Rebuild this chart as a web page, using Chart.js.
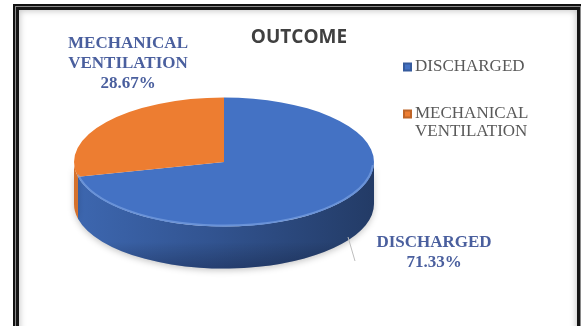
<!DOCTYPE html>
<html>
<head>
<meta charset="utf-8">
<title>Outcome</title>
<script src="https://cdn.jsdelivr.net/npm/chart.js@4.4.1/dist/chart.umd.min.js"></script>
<style>
  html, body { margin: 0; padding: 0; background: #ffffff; }
  #wrap { position: relative; width: 581px; height: 326px; overflow: hidden; background: #ffffff; }
  #frame {
    position: absolute; left: 13px; top: 4px; width: 570px; height: 360px;
    background: #ffffff;
    box-shadow:
      inset 0 0 0 2px #111111,
      inset 0 0 0 3px #8a8a8a,
      inset 0 0 0 6px #151515,
      inset 0 0 6px 7px rgba(0,0,0,0.22);
  }
  #c { position: absolute; left: 0; top: 0; }
</style>
</head>
<body>
<div id="wrap">
  <div id="frame"></div>
  <canvas id="c" width="581" height="326"></canvas>
</div>
<script>
// Outcome of admitted patients (share of cases, %)
const categories = ['DISCHARGED', 'MECHANICAL VENTILATION'];
const shares = [71.33, 28.67];
const sliceColors = ['#4472C4', '#ED7D31'];
const chartTitle = 'OUTCOME';

// Look of the tilted pie
const TILT = 0.43;        // vertical squash of the pie face
const DEPTH = 42;         // thickness of the pie wall in px
const LABEL_COLOR = '#4a5f9e';

function shade(hex, f) {
  const n = parseInt(hex.slice(1), 16);
  const r = Math.round(((n >> 16) & 255) * f);
  const g = Math.round(((n >> 8) & 255) * f);
  const b = Math.round((n & 255) * f);
  return 'rgb(' + r + ',' + g + ',' + b + ')';
}

// Draws the visible wall of each slice, then squashes the face drawn by Chart.js
const tiltPlugin = {
  id: 'tilt',
  beforeDatasetsDraw(chart) {
    const ctx = chart.ctx;
    const meta = chart.getDatasetMeta(0);
    ctx.save();
    meta.data.forEach((arc, i) => {
      const p = arc.getProps(['x', 'y', 'startAngle', 'endAngle', 'outerRadius'], true);
      const R = p.outerRadius, r = R * TILT;
      // front half of the rim runs from 0 to PI (also 2PI..3PI after wrap)
      [[0, Math.PI], [2 * Math.PI, 3 * Math.PI]].forEach(([lo, hi]) => {
        const a0 = Math.max(p.startAngle, lo), a1 = Math.min(p.endAngle, hi);
        if (a1 <= a0) return;
        const g = ctx.createLinearGradient(p.x - R, 0, p.x + R, 0);
        g.addColorStop(0, shade(sliceColors[i], 0.9));
        g.addColorStop(0.45, shade(sliceColors[i], 0.74));
        g.addColorStop(1, shade(sliceColors[i], 0.52));
        ctx.beginPath();
        ctx.ellipse(p.x, p.y, R, r, 0, a0, a1, false);
        ctx.ellipse(p.x, p.y + DEPTH, R, r, 0, a1, a0, true);
        ctx.closePath();
        ctx.shadowColor = 'rgba(0,0,0,0.22)';
        ctx.shadowBlur = 6;
        ctx.shadowOffsetY = 2;
        ctx.fillStyle = g;
        ctx.fill();
        ctx.shadowColor = 'transparent';
        // darker lower edge of the wall
        const v = ctx.createLinearGradient(0, p.y, 0, p.y + r + DEPTH);
        v.addColorStop(0, 'rgba(0,0,0,0)');
        v.addColorStop(0.75, 'rgba(0,0,0,0)');
        v.addColorStop(1, 'rgba(0,0,20,0.25)');
        ctx.fillStyle = v;
        ctx.fill();
      });
    });
    ctx.restore();
  },
  beforeDatasetDraw(chart) {
    const ctx = chart.ctx;
    const cy = chart.getDatasetMeta(0).data[0].y;
    ctx.save();
    ctx.translate(0, cy);
    ctx.scale(1, TILT);
    ctx.translate(0, -cy);
  },
  afterDatasetDraw(chart) {
    const ctx = chart.ctx;
    ctx.restore();
    // soft highlight along the front edge of the face
    const meta = chart.getDatasetMeta(0);
    const p = meta.data[0].getProps(['x', 'y', 'outerRadius'], true);
    ctx.save();
    ctx.beginPath();
    ctx.ellipse(p.x, p.y, p.outerRadius - 1, p.outerRadius * TILT - 1, 0, 0.05, Math.PI - 0.2);
    ctx.strokeStyle = 'rgba(130,168,230,0.6)';
    ctx.lineWidth = 2;
    ctx.stroke();
    ctx.restore();
  }
};

// Title, slice labels and legend
const labelPlugin = {
  id: 'labels',
  afterDraw(chart) {
    const ctx = chart.ctx;
    ctx.save();
    ctx.textBaseline = 'middle';

    ctx.fillStyle = '#404040';
    ctx.font = '700 19px "Open Sans", sans-serif';
    ctx.textAlign = 'center';
    ctx.fillText(chartTitle, 299, 38);

    // slice labels: name lines plus the share
    const anchors = [{ x: 434, y: 243 }, { x: 128, y: 44 }];
    ctx.font = '700 17px "Liberation Serif", "Times New Roman", serif';
    ctx.fillStyle = LABEL_COLOR;
    categories.forEach((name, i) => {
      const lines = name.split(' ').concat([shares[i].toFixed(2) + '%']);
      lines.forEach((t, k) => ctx.fillText(t, anchors[i].x, anchors[i].y + k * 19.7));
    });

    // leader line for the large slice
    ctx.strokeStyle = '#bdbdbd';
    ctx.lineWidth = 1;
    ctx.beginPath();
    ctx.moveTo(348, 237);
    ctx.lineTo(355, 261);
    ctx.stroke();

    // legend
    const rows = [67, 114];
    ctx.textAlign = 'left';
    ctx.font = '17px "Liberation Serif", "Times New Roman", serif';
    categories.forEach((name, i) => {
      const y = rows[i];
      ctx.fillStyle = shade(sliceColors[i], 0.8);
      ctx.fillRect(403, y - 4.5, 9, 9);
      ctx.fillStyle = sliceColors[i];
      ctx.fillRect(405, y - 2.5, 5, 5);
      ctx.fillStyle = '#595959';
      name.split(' ').forEach((t, k) => ctx.fillText(t, 415, y + k * 17.5));
    });
    ctx.restore();
  }
};

new Chart(document.getElementById('c'), {
  type: 'pie',
  data: {
    labels: categories,
    datasets: [{
      data: shares,
      backgroundColor: sliceColors,
      borderWidth: 0,
      radius: 150,
      clip: false
    }]
  },
  options: {
    responsive: false,
    animation: false,
    layout: { padding: { left: 0, right: 133, top: 0, bottom: 2 } },
    plugins: {
      legend: { display: false },
      title: { display: false },
      tooltip: { enabled: false }
    }
  },
  plugins: [tiltPlugin, labelPlugin]
});
</script>
</body>
</html>
